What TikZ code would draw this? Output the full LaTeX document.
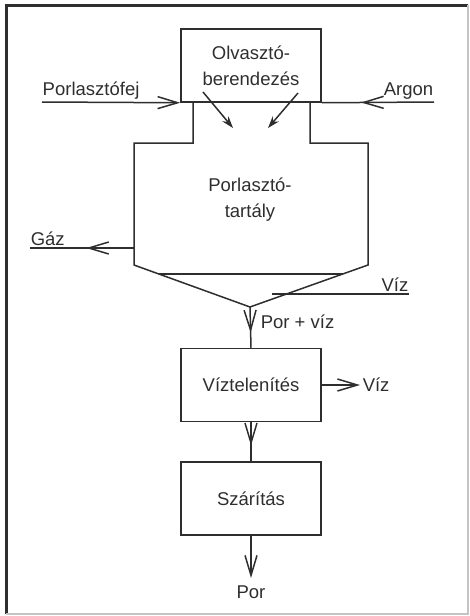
\documentclass[tikz,border=0pt]{standalone}
\usepackage{fontspec}
\setmainfont{Liberation Sans}
\usetikzlibrary{arrows.meta, decorations.markings}
\definecolor{scanink}{HTML}{2e2e2e}
\definecolor{scanedge}{HTML}{c4c4c4}

\begin{document}
\begin{tikzpicture}[
  x=0.5pt, y=-0.5pt,
  line width=0.75pt, color=scanink,
  >={Straight Barb[length=10pt, width=6pt]},
  unit/.style={draw, minimum width=70pt, minimum height=36.5pt, inner sep=0pt, align=center, font=\fontsize{9.25}{13}\selectfont},
  tag/.style={inner sep=0pt, font=\fontsize{9.25}{13}\selectfont},
  flowmid/.style={postaction={decorate}, decoration={markings, mark=at position #1 with {\arrow{>}}}},
  spray/.style={-{Stealth[length=6pt, width=4pt]}}
]
\useasboundingbox (0,0) rectangle (470,616);

% frame
\draw[line width=1.5pt] (6,614) -- (6,5) -- (468,5);
\draw[scanedge] (468,5) -- (468,614) -- (6,614);

% process units
\node[unit] (olvaszto) at (251,65.5) {Olvasztó-\\berendezés};
\node[unit] (viztelen) at (251,385) {Víztelenítés};
\node[unit] (szaritas) at (251,498.5) {Szárítás};

% spray vessel with funnel
\draw (193,102) |- (134,143) -- (134,265) -- (250,307) coordinate (csucs) -- (368,265) -- (368,143) -| (310,102);
\draw (159,274) -- (343,274);
\node[tag, align=center] (tartaly) at (250,200) {Porlasztó-\\tartály};

% melt streams into the vessel
\coordinate (cseppa) at (203,92);
\coordinate (cseppb) at (233,128);
\coordinate (cseppc) at (298,93);
\coordinate (cseppd) at (268,128);
\draw[spray] (cseppa) -- (cseppb);
\draw[spray] (cseppc) -- (cseppd);

% inlets
\coordinate (fejbe) at (42,102);
\node[tag, anchor=base west] (fej) at (42,95) {Porlasztófej};
\draw[->] (fejbe) -- (olvaszto.south west);

\coordinate (argonbe) at (434,102);
\node[tag, anchor=base east] (argon) at (434,95) {Argon};
\draw[flowmid=0.65] (argonbe) -- (olvaszto.south east);

\coordinate (gazfal) at (134,248);
\coordinate (gazki) at (30,248);
\node[tag, anchor=base west] (gaz) at (30,245) {Gáz};
\draw[flowmid=0.46] (gazfal) -- (gazki);

\coordinate (vizbe) at (409,294);
\coordinate (vizvege) at (272,294);
\node[tag, anchor=base east] (viz) at (409,291) {Víz};
\draw (vizbe) -- (vizvege);

% product line
\node[tag, anchor=base west] (porviz) at (260,328) {Por + víz};
\draw[flowmid=0.63] (csucs) -- (viztelen.north);

\coordinate (vizki) at (360,385);
\node[tag, anchor=base west] (vizle) at (362,391.5) {Víz};
\draw[->] (viztelen.east) -- (vizki);

\draw[flowmid=0.6] (viztelen) -- (szaritas);

\coordinate (porki) at (251,578);
\node[tag, anchor=base] (por) at (251,598) {Por};
\draw[->] (szaritas.south) -- (porki);
\end{tikzpicture}
\end{document}
